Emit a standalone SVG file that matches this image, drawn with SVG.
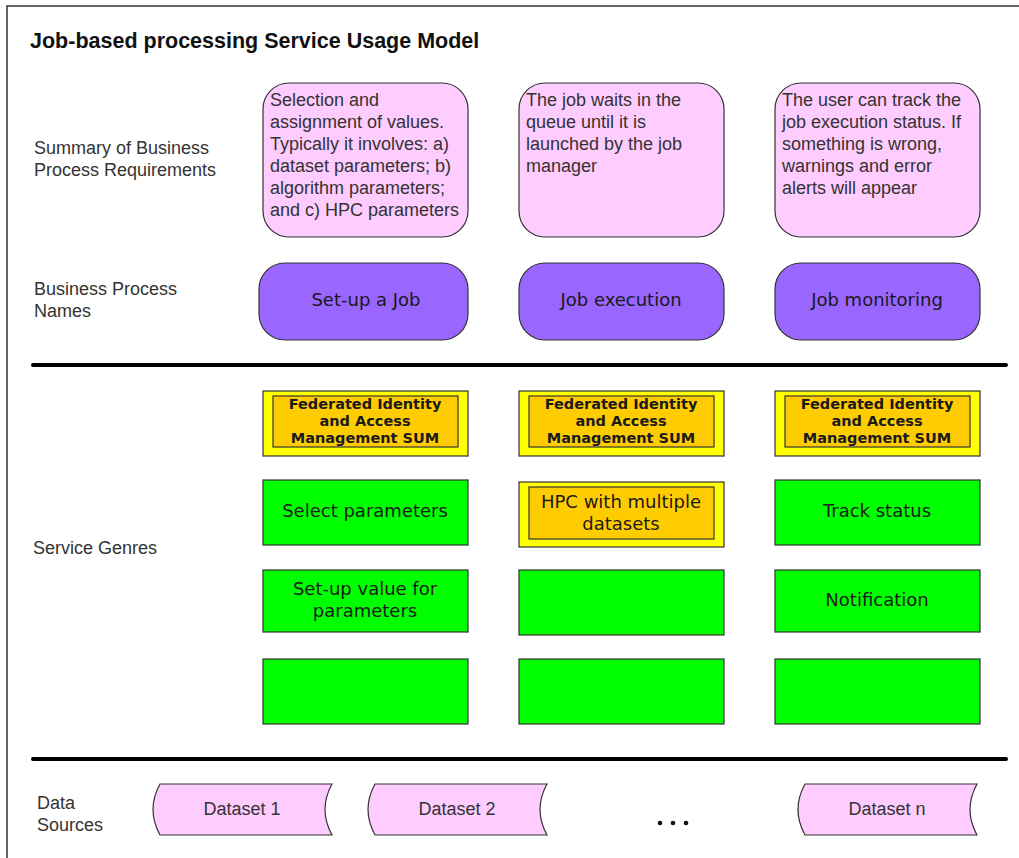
<svg xmlns="http://www.w3.org/2000/svg" width="1019" height="858" viewBox="0 0 1019 858">
  <style>
    .frame { fill: #ffffff; stroke: #333333; stroke-width: 1.5; }
    .title { font-family: "Liberation Sans", Arial, sans-serif; font-weight: bold; font-size: 21.5px; fill: #111111; }
    .lbl { font-family: "Liberation Sans", Arial, sans-serif; font-size: 18px; fill: #333333; }
    .req { fill: #ffccff; stroke: #333333; stroke-width: 1.2; }
    .proc { fill: #9966ff; stroke: #333333; stroke-width: 1.2; }
    .ptxt { font-family: "DejaVu Sans", Verdana, sans-serif; font-size: 18px; fill: #1a1a1a; text-anchor: middle; }
    .sep { stroke: #000000; stroke-width: 4; stroke-linecap: round; }
    .outer { fill: #ffff00; stroke: #333333; stroke-width: 1.2; }
    .inner { fill: #ffcc00; stroke: #333333; stroke-width: 1.2; }
    .ftxt { font-family: "DejaVu Sans", Verdana, sans-serif; font-weight: bold; font-size: 14.5px; fill: #1a1a1a; text-anchor: middle; }
    .green { fill: #00ff00; stroke: #333333; stroke-width: 1.2; }
    .gtxt { font-family: "DejaVu Sans", Verdana, sans-serif; font-size: 18px; fill: #1a1a1a; text-anchor: middle; }
    .ds { fill: #ffccff; stroke: #333333; stroke-width: 1.2; }
    .dtxt { font-family: "Liberation Sans", Arial, sans-serif; font-size: 18px; fill: #333333; text-anchor: middle; }
  </style>

  <rect width="1019" height="858" fill="#ffffff"/>
  <rect class="frame" x="7" y="6" width="1030" height="870"/>

  <text class="title" x="30" y="48">Job-based processing Service Usage Model</text>

  <!-- row labels -->
  <g id="row-labels">
    <text class="lbl" x="34" y="154">Summary of Business</text>
    <text class="lbl" x="34" y="176">Process Requirements</text>
    <text class="lbl" x="34" y="295">Business Process</text>
    <text class="lbl" x="34" y="317">Names</text>
    <text class="lbl" x="33" y="554">Service Genres</text>
    <text class="lbl" x="37" y="809">Data</text>
    <text class="lbl" x="37" y="831">Sources</text>
  </g>

  <!-- section separators -->
  <g id="separators">
    <line class="sep" x1="33" y1="365" x2="1006" y2="365"/>
    <line class="sep" x1="33" y1="759" x2="1006" y2="759"/>
  </g>

  <!-- requirement summaries -->
  <g id="req-setup">
    <rect class="req" x="263" y="83" width="205" height="154" rx="26"/>
    <text class="lbl" x="270" y="106">Selection and</text>
    <text class="lbl" x="270" y="128">assignment of values.</text>
    <text class="lbl" x="270" y="150">Typically it involves: a)</text>
    <text class="lbl" x="270" y="172">dataset parameters; b)</text>
    <text class="lbl" x="270" y="194">algorithm parameters;</text>
    <text class="lbl" x="270" y="216">and c) HPC parameters</text>
  </g>
  <g id="req-execution">
    <rect class="req" x="519" y="83" width="205" height="154" rx="26"/>
    <text class="lbl" x="526" y="106">The job waits in the</text>
    <text class="lbl" x="526" y="128">queue until it is</text>
    <text class="lbl" x="526" y="150">launched by the job</text>
    <text class="lbl" x="526" y="172">manager</text>
  </g>
  <g id="req-monitoring">
    <rect class="req" x="775" y="83" width="205" height="154" rx="26"/>
    <text class="lbl" x="782" y="106">The user can track the</text>
    <text class="lbl" x="782" y="128">job execution status. If</text>
    <text class="lbl" x="782" y="150">something is wrong,</text>
    <text class="lbl" x="782" y="172">warnings and error</text>
    <text class="lbl" x="782" y="194">alerts will appear</text>
  </g>

  <!-- business processes -->
  <g id="proc-setup">
    <rect class="proc" x="259" y="263" width="209" height="77" rx="26"/>
    <text class="ptxt" x="366" y="306">Set-up a Job</text>
  </g>
  <g id="proc-execution">
    <rect class="proc" x="519" y="263" width="205" height="77" rx="26"/>
    <text class="ptxt" x="621" y="306">Job execution</text>
  </g>
  <g id="proc-monitoring">
    <rect class="proc" x="775" y="263" width="205" height="77" rx="26"/>
    <text class="ptxt" x="877" y="306">Job monitoring</text>
  </g>

  <!-- federated identity SUM -->
  <g id="fim-1">
    <rect class="outer" x="263" y="391" width="205" height="65"/>
    <rect class="inner" x="273" y="396" width="185" height="51"/>
    <text class="ftxt" x="365" y="409">Federated Identity</text>
    <text class="ftxt" x="365" y="426">and Access</text>
    <text class="ftxt" x="365" y="443">Management SUM</text>
  </g>
  <g id="fim-2">
    <rect class="outer" x="519" y="391" width="205" height="65"/>
    <rect class="inner" x="529" y="396" width="185" height="51"/>
    <text class="ftxt" x="621" y="409">Federated Identity</text>
    <text class="ftxt" x="621" y="426">and Access</text>
    <text class="ftxt" x="621" y="443">Management SUM</text>
  </g>
  <g id="fim-3">
    <rect class="outer" x="775" y="391" width="205" height="65"/>
    <rect class="inner" x="785" y="396" width="185" height="51"/>
    <text class="ftxt" x="877" y="409">Federated Identity</text>
    <text class="ftxt" x="877" y="426">and Access</text>
    <text class="ftxt" x="877" y="443">Management SUM</text>
  </g>

  <!-- service genres -->
  <g id="select-params">
    <rect class="green" x="263" y="480" width="205" height="65"/>
    <text class="gtxt" x="365" y="517">Select parameters</text>
  </g>
  <g id="hpc-multi">
    <rect class="outer" x="519" y="482" width="205" height="65"/>
    <rect class="inner" x="529" y="487" width="185" height="52"/>
    <text class="gtxt" x="621" y="508">HPC with multiple</text>
    <text class="gtxt" x="621" y="530">datasets</text>
  </g>
  <g id="track-status">
    <rect class="green" x="775" y="480" width="205" height="65"/>
    <text class="gtxt" x="877" y="517">Track status</text>
  </g>
  <g id="setup-values">
    <rect class="green" x="263" y="570" width="205" height="62"/>
    <text class="gtxt" x="365" y="595">Set-up value for</text>
    <text class="gtxt" x="365" y="617">parameters</text>
  </g>
  <g id="genre-empty-2">
    <rect class="green" x="519" y="570" width="205" height="65"/>
  </g>
  <g id="notification">
    <rect class="green" x="775" y="570" width="205" height="62"/>
    <text class="gtxt" x="877" y="606">Notification</text>
  </g>
  <g id="genre-empty-1">
    <rect class="green" x="263" y="659" width="205" height="65"/>
  </g>
  <g id="genre-empty-3">
    <rect class="green" x="519" y="659" width="205" height="65"/>
  </g>
  <g id="genre-empty-4">
    <rect class="green" x="775" y="659" width="205" height="65"/>
  </g>

  <!-- data sources -->
  <g id="dataset-1">
    <path class="ds" d="M160,784 L332,784 Q318,809.5 332,835 L160,835 Q146,809.5 160,784 Z"/>
    <text class="dtxt" x="242" y="815">Dataset 1</text>
  </g>
  <g id="dataset-2">
    <path class="ds" d="M375,784 L547,784 Q533,809.5 547,835 L375,835 Q361,809.5 375,784 Z"/>
    <text class="dtxt" x="457" y="815">Dataset 2</text>
  </g>
  <g id="ellipsis">
    <circle cx="660" cy="823" r="2.3" fill="#111111"/>
    <circle cx="673" cy="823" r="2.3" fill="#111111"/>
    <circle cx="686" cy="823" r="2.3" fill="#111111"/>
  </g>
  <g id="dataset-n">
    <path class="ds" d="M805,784 L977,784 Q963,809.5 977,835 L805,835 Q791,809.5 805,784 Z"/>
    <text class="dtxt" x="887" y="815">Dataset n</text>
  </g>

  <!-- no connectors in this model -->
  <g id="connectors"/>
</svg>
